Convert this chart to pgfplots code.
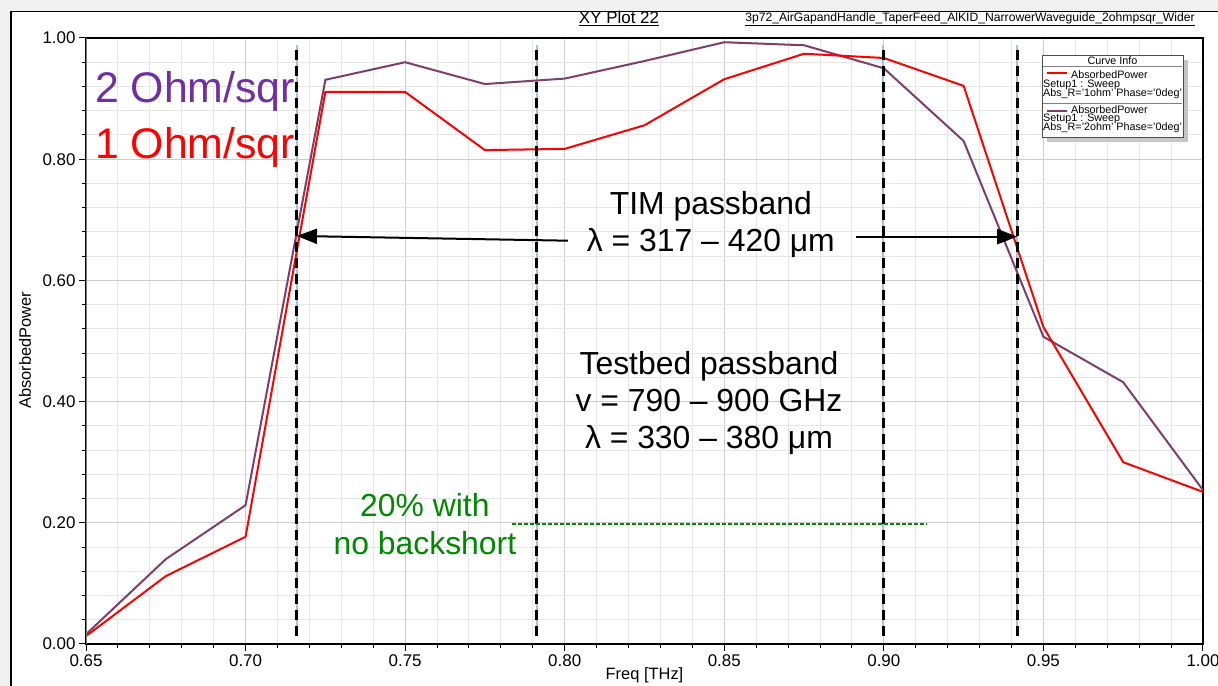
\documentclass[border=0pt]{standalone}
\usepackage{fontspec}
\setmainfont{Liberation Sans}
\usepackage{pgfplots}
\pgfplotsset{compat=1.18}
\usetikzlibrary{arrows.meta}
\definecolor{redc}{RGB}{255,0,0}
\definecolor{purc}{RGB}{125,62,108}
\definecolor{purtext}{RGB}{112,48,160}
\definecolor{greenc}{RGB}{0,136,0}
\definecolor{vblue}{RGB}{160,195,225}
\definecolor{winbg}{RGB}{240,240,240}
\definecolor{majg}{RGB}{205,205,205}
\definecolor{ming}{RGB}{230,230,230}
\begin{document}
\begin{tikzpicture}[x=1bp,y=1bp]
\path[use as bounding box] (0,0) rectangle (1218,686);
\fill[winbg] (0,0) rectangle (1218,686);
\fill[white] (11,0) rectangle (1218,674.3);
\draw[black, line width=1.2bp] (11,0) -- (11,674.3) -- (1218,674.3);
% titles
\node[anchor=base, inner sep=0, font=\fontsize{17}{17}\selectfont] at (619,686-24) {\underline{XY Plot 22}};
\node[anchor=base east, inner sep=0, font=\fontsize{12.2}{12.2}\selectfont] at (1195,686-21.7) {\underline{3p72\_AirGapandHandle\_TaperFeed\_AlKID\_NarrowerWaveguide\_2ohmpsqr\_Wider}};
\begin{axis}[
  at={(86bp,42bp)}, anchor=south west, scale only axis,
  width=1117bp, height=606bp,
  xmin=0.65, xmax=1.0, ymin=0, ymax=1,
  xtick={0.65,0.70,0.75,0.80,0.85,0.90,0.95,1.00},
  xticklabels={0.65,0.70,0.75,0.80,0.85,0.90,0.95,1.00},
  ytick={0,0.2,0.4,0.6,0.8,1.0},
  yticklabels={0.00,0.20,0.40,0.60,0.80,1.00},
  minor x tick num=4, minor y tick num=4,
  grid=both,
  major grid style={majg, line width=1.1bp},
  minor grid style={ming, line width=1bp},
  xtick pos=bottom, ytick pos=left,
  tick align=outside, major tick length=7bp, minor tick length=4bp,
  tick style={black, line width=1bp},
  axis line style={black, line width=1.2bp},
  /pgf/number format/assume math mode=true,
  ticklabel style={font=\fontsize{17}{17}\selectfont},
  xlabel={Freq [THz]}, ylabel={AbsorbedPower},
  label style={font=\fontsize{16.5}{16.5}\selectfont},
  xlabel style={at={(axis description cs:0.5,-0.0512)}, anchor=center},
  ylabel style={at={(axis description cs:-0.0546,0.485)}, anchor=center},
]
% light blue marker lines
\addplot[vblue, line width=1.5bp, forget plot] coordinates {(0.7161,0.013) (0.7161,0.988)};
\addplot[vblue, line width=1.5bp, forget plot] coordinates {(0.7913,0.013) (0.7913,0.988)};
\addplot[vblue, line width=1.5bp, forget plot] coordinates {(0.8998,0.013) (0.8998,0.988)};
\addplot[vblue, line width=1.5bp, forget plot] coordinates {(0.9418,0.013) (0.9418,0.988)};
% 2 ohm/sq
\addplot[purc, line width=2bp] coordinates {
(0.65,0.016) (0.675,0.140) (0.70,0.229) (0.725,0.931) (0.75,0.960) (0.775,0.924) (0.80,0.933) (0.825,0.962) (0.85,0.993) (0.875,0.988) (0.90,0.950) (0.925,0.830) (0.95,0.507) (0.975,0.432) (1.00,0.254)};
% 1 ohm/sq
\addplot[redc, line width=2bp] coordinates {
(0.65,0.013) (0.675,0.112) (0.70,0.177) (0.725,0.911) (0.75,0.911) (0.775,0.815) (0.80,0.817) (0.825,0.856) (0.85,0.932) (0.875,0.974) (0.90,0.967) (0.925,0.921) (0.95,0.523) (0.975,0.300) (1.00,0.251)};
% black dashed passband lines
\addplot[black, line width=3bp, dash pattern=on 10bp off 6bp, forget plot] coordinates {(0.7161,0.013) (0.7161,0.988)};
\addplot[black, line width=3bp, dash pattern=on 10bp off 6bp, forget plot] coordinates {(0.7913,0.013) (0.7913,0.988)};
\addplot[black, line width=3bp, dash pattern=on 10bp off 6bp, forget plot] coordinates {(0.8998,0.013) (0.8998,0.988)};
\addplot[black, line width=3bp, dash pattern=on 10bp off 6bp, forget plot] coordinates {(0.9418,0.013) (0.9418,0.988)};
% green 20% line
\addplot[greenc, line width=1.3bp, dash pattern=on 4bp off 2bp, forget plot] coordinates {(0.7835,0.198) (0.9135,0.198)};
% arrows
\draw[-{Triangle[length=20bp,width=15bp]}, line width=2bp] (axis cs:0.801,0.6655) -- (axis cs:0.7161,0.6733);
\draw[-{Triangle[length=20bp,width=15bp]}, line width=2bp] (axis cs:0.8913,0.6722) -- (axis cs:0.9418,0.6722);
% texts
\node[anchor=base, inner sep=0, font=\fontsize{32}{32}\selectfont] at (axis cs:0.8458,0.7079) {TIM passband};
\node[anchor=base, inner sep=0, font=\fontsize{32}{32}\selectfont] at (axis cs:0.8458,0.6474) {λ = 317 – 420 μm};
\node[anchor=base, inner sep=0, font=\fontsize{32}{32}\selectfont] at (axis cs:0.8452,0.4439) {Testbed passband};
\node[anchor=base, inner sep=0, font=\fontsize{32}{32}\selectfont] at (axis cs:0.8452,0.3833) {v = 790 – 900 GHz};
\node[anchor=base, inner sep=0, font=\fontsize{32}{32}\selectfont] at (axis cs:0.8452,0.3234) {λ = 330 – 380 μm};
\node[anchor=base, inner sep=0, text=greenc, font=\fontsize{32}{32}\selectfont] at (axis cs:0.7562,0.2101) {20\% with};
\node[anchor=base, inner sep=0, text=greenc, font=\fontsize{32}{32}\selectfont] at (axis cs:0.7562,0.1485) {no backshort};
\node[anchor=base west, inner sep=0, text=purtext, font=\fontsize{43}{43}\selectfont] at (axis cs:0.6528,0.8932) {2 Ohm/sqr};
\node[anchor=base west, inner sep=0, text=redc, font=\fontsize{43}{43}\selectfont] at (axis cs:0.6528,0.8015) {1 Ohm/sqr};
\draw[gray, line width=1.4bp] (rel axis cs:0,0) -- (rel axis cs:0,1);
\end{axis}
% legend box (Curve Info)
\fill[gray!45] (1047,544) rectangle (1188,626);
\filldraw[fill=white, draw=black!70, line width=0.8bp] (1042,549) rectangle (1183,631);
\draw[black!50, line width=0.6bp] (1043,686-66.7) -- (1182,686-66.7);
\draw[black!50, line width=0.6bp] (1043,686-103) -- (1182,686-103);
\node[anchor=base, inner sep=0, font=\fontsize{10.8}{10.8}\selectfont] at (1112.5,686-65) {Curve Info};
\draw[redc, line width=2bp] (1047,686-73) -- (1067,686-73);
\node[anchor=base west, inner sep=0, font=\fontsize{10.8}{10.8}\selectfont] at (1071,686-78.3) {AbsorbedPower};
\node[anchor=base west, inner sep=0, font=\fontsize{10.8}{10.8}\selectfont] at (1043,686-87.7) {Setup1 : Sweep};
\node[anchor=base west, inner sep=0, font=\fontsize{10.8}{10.8}\selectfont] at (1043,686-96.7) {Abs\_R='1ohm' Phase='0deg'};
\draw[purc, line width=2bp] (1047,686-110.7) -- (1067,686-110.7);
\node[anchor=base west, inner sep=0, font=\fontsize{10.8}{10.8}\selectfont] at (1071,686-113.3) {AbsorbedPower};
\node[anchor=base west, inner sep=0, font=\fontsize{10.8}{10.8}\selectfont] at (1043,686-121.7) {Setup1 : Sweep};
\node[anchor=base west, inner sep=0, font=\fontsize{10.8}{10.8}\selectfont] at (1043,686-131) {Abs\_R='2ohm' Phase='0deg'};
\end{tikzpicture}
\end{document}
